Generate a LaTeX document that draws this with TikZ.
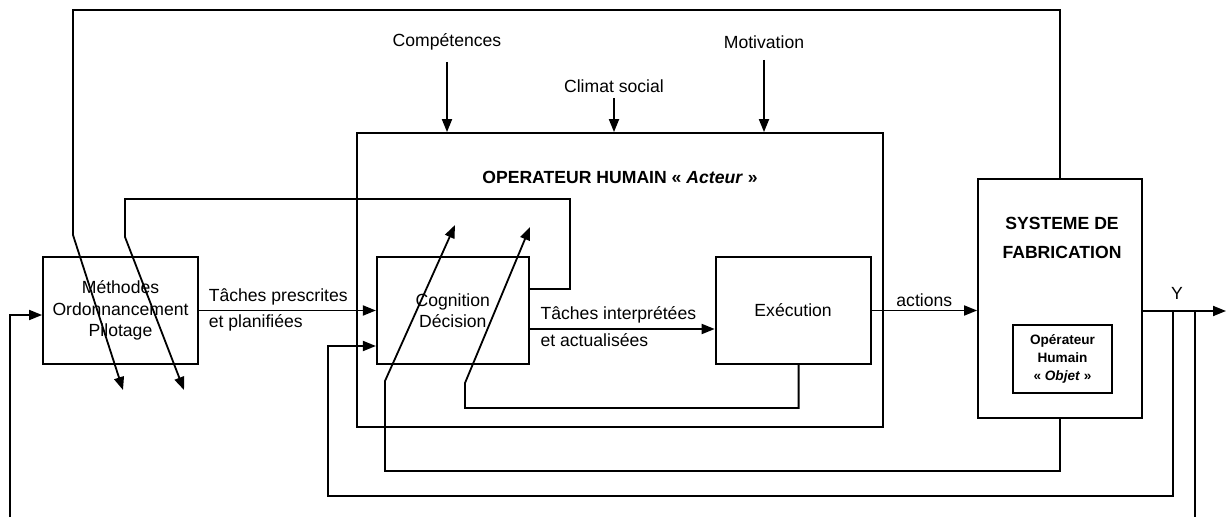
\documentclass[tikz,border=0pt]{standalone}
\usepackage{fontspec}
\setmainfont{Liberation Sans}
\usetikzlibrary{arrows.meta,positioning}

\begin{document}
\begin{tikzpicture}[
    x=1pt, y=-1pt,
    font=\fontsize{17.6}{21.5}\selectfont,
    block/.style={draw, line width=1.8pt, minimum width=155pt, minimum height=107pt, align=center, inner sep=0pt},
    title/.style={font=\fontsize{17.6}{29}\selectfont\bfseries, align=center},
    arrow/.style={-{Triangle[length=13pt, width=10pt]}, line width=1.8pt},
    wire/.style={line width=1.8pt},
    lbl/.style={anchor=west, inner sep=0pt}
]
\useasboundingbox (0,0) rectangle (1227,519);

% Operateur humain and its blocks
\node[block, minimum width=526pt, minimum height=294pt] (oper) at (620,280) {};
\node[title] (operttl) at (620,177) {OPERATEUR HUMAIN « \textit{Acteur} »};

\node[block] (meth) at (120.5,310.5) {Méthodes\\Ordonnancement\\Pilotage};
\node[block, minimum width=152pt, right=177pt of meth] (cog) {Cognition\\Décision};
\node[block, right=185pt of cog] (exec) {Exécution};

% Systeme de fabrication
\node[block, minimum width=164pt, minimum height=239pt] (sys) at (1060,298.5) {};
\node[title] (systtl) at (1062,237.5) {SYSTEME DE\\FABRICATION};
\node[block, minimum width=99pt, minimum height=68pt, font=\fontsize{13.6}{18}\selectfont\bfseries] (obj) at (1062.5,359) {Opérateur\\Humain\\« \textit{Objet} »};

% Influences on the operator
\node (comp) at (447,42) {Compétences};
\node (clim) at (614,86) {Climat social};
\node (motiv) at (764,42) {Motivation};

\draw[arrow, shorten <=8pt] (comp.south) -- (comp.south |- oper.north);
\draw[arrow, shorten <=2pt] (clim.south) -- (clim.south |- oper.north);
\draw[arrow, shorten <=8pt] (motiv.south) -- (motiv.south |- oper.north);

% Main flow
\draw[arrow] (meth.east) -- (cog.west)
    node[lbl, pos=0, xshift=9pt, yshift=14pt] {Tâches prescrites}
    node[lbl, pos=0, xshift=9pt, yshift=-12pt] {et planifiées};
\draw[arrow] ([yshift=-18.5pt]cog.east) -- ([yshift=-18.5pt]exec.west)
    node[lbl, pos=0, xshift=10pt, yshift=14pt] {Tâches interprétées}
    node[lbl, pos=0, xshift=10pt, yshift=-11pt] {et actualisées};
\draw[arrow] (exec.east) -- (sys.west |- exec.east) node[midway, above] {actions};

% Output Y
\coordinate (yout) at (1226,311);
\coordinate (b1) at (1173,311);
\coordinate (b2) at (1195,311);
\coordinate (b2end) at (1195,517);
\coordinate (lstart) at (10,517);
\draw[arrow] (sys.east |- yout) -- (yout);
\node (ylbl) at (1177,293) {Y};

% Feedback loops
\draw[arrow] (b1) |- (328,496) |- ([yshift=-35.5pt]cog.west);
\draw[wire] (b2) -- (b2end);
\draw[arrow] (lstart) |- ([yshift=-4.5pt]meth.west);

\coordinate (tip1) at (123,390);
\coordinate (tip2) at (184,390);
\coordinate (tip3) at (455,225);
\coordinate (tip4) at (530,227);
\draw[arrow] (sys.north) |- (73,10) -- (73,235) -- (tip1);
\draw[arrow] ([yshift=21.5pt]cog.east) -| (570,199) -| (125,237) -- (tip2);
\draw[arrow] (sys.south) |- (385,471) -- (385,381) -- (tip3);
\draw[arrow] ([xshift=5.5pt]exec.south) |- (465,408) -- (465,383) -- (tip4);

\end{tikzpicture}
\end{document}
